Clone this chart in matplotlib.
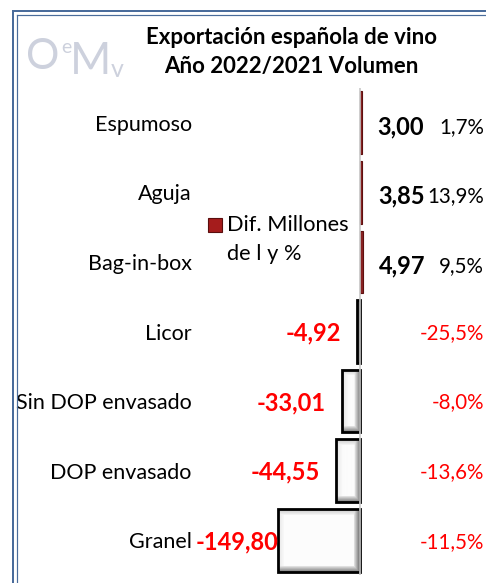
import matplotlib
matplotlib.use('Agg')
import matplotlib.pyplot as plt
import matplotlib.transforms as mtransforms
from matplotlib.lines import Line2D
from matplotlib.patches import Rectangle
import numpy as np

# ---------------- data ----------------
categories = ["Espumoso", "Aguja", "Bag-in-box", "Licor",
              "Sin DOP envasado", "DOP envasado", "Granel"]
dif_millones = [3.00, 3.85, 4.97, -4.92, -33.01, -44.55, -149.80]
variacion_pct = [1.7, 13.9, 9.5, -25.5, -8.0, -13.6, -11.5]
title_lines = ["Exportación española de vino", "Año 2022/2021 Volumen"]
legend_label = "Dif. Millones\nde l y %"

plt.rcParams['font.family'] = ['Lato', 'DejaVu Sans']

W, H = 486, 583
DPI = 100
fig = plt.figure(figsize=(W / DPI, H / DPI), dpi=DPI)
fig.patch.set_facecolor('white')


def fx(px):
    return px / W


def fy(py):
    return 1 - py / H


PT = 72 / DPI  # points per pixel

ax = fig.add_axes([fx(196), fy(575), fx(484) - fx(196), fy(88) - fy(575)])
ax.set_facecolor('none')

y = np.arange(len(categories))
face = ['#8b2222' if v > 0 else 'none' for v in dif_millones]
edge = ['#5e1010' if v > 0 else 'black' for v in dif_millones]
lws = [0.8 if v > 0 else 2.0 for v in dif_millones]
bars = ax.barh(y, dif_millones, height=0.9, color=face, edgecolor=edge,
               linewidth=lws, zorder=3)

ax.set_xlim(-300, 227)
ax.set_ylim(len(categories) - 0.5, -0.5)

# bevel shading for negative bars (image clipped to bar shape)
fig.canvas.draw()
for b, v in zip(bars, dif_millones):
    if v >= 0:
        continue
    x0, y0, w, h = b.get_x(), b.get_y(), b.get_width(), b.get_height()
    p0 = ax.transData.transform((x0, y0))
    p1 = ax.transData.transform((x0 + w, y0 + h))
    wpx = max(int(round(abs(p1[0] - p0[0]))), 2)
    hpx = max(int(round(abs(p1[1] - p0[1]))), 2)
    xx, yy = np.meshgrid(np.arange(wpx), np.arange(hpx))
    xl, xr = min(x0, x0 + w), max(x0, x0 + w)
    bev = 6.0
    shade = np.full((hpx, wpx), 0.985)
    dr = (wpx - 1 - xx) / bev
    db = (hpx - 1 - yy) / bev
    dt = yy / bev
    dl = xx / bev
    shade = np.minimum(shade, np.where(dr < 1, 0.45 + 0.5 * dr, 1))
    shade = np.minimum(shade, np.where(db < 1, 0.5 + 0.45 * db, 1))
    shade = np.minimum(shade, np.where(dt < 1, 0.78 + 0.2 * dt, 1))
    shade = np.minimum(shade, np.where(dl < 1, 0.9 + 0.08 * dl, 1))
    img = ax.imshow(shade, cmap='gray', vmin=0, vmax=1, aspect='auto',
                    extent=(xl, xr, y0 + h, y0), origin='upper',
                    interpolation='bilinear', zorder=2)
    img.set_clip_path(b)

ax.set_xlim(-300, 227)
ax.set_ylim(len(categories) - 0.5, -0.5)

ax.axvline(0, color='#c8c8c8', lw=1.2, zorder=4)

for s in ax.spines.values():
    s.set_visible(False)
ax.set_xticks([])
ax.set_yticks(y)
ax.set_yticklabels(categories, fontsize=15.5, color='black')
ax.tick_params(axis='y', length=0, pad=3)

# value labels
neg_anns = []
for yi, v in zip(y, dif_millones):
    txt = f"{v:.2f}".replace('.', ',')
    if v > 0:
        ax.annotate(txt, xy=(v, yi), xytext=(16 * PT, -4 * PT),
                    textcoords='offset points', ha='left', va='center',
                    fontsize=17, fontweight='bold', color='black', zorder=5)
    else:
        a = ax.annotate(txt, xy=(v, yi), xytext=(-16 * PT, -1.5 * PT),
                        textcoords='offset points', ha='right', va='center',
                        fontsize=17, fontweight='bold', color='#ff0000',
                        zorder=5)
        neg_anns.append(a)

# percentage labels at right edge
trans = mtransforms.blended_transform_factory(ax.transAxes, ax.transData)
for yi, p in zip(y, variacion_pct):
    txt = f"{p:.1f}%".replace('.', ',')
    ax.annotate(txt, xy=(1.0, yi), xycoords=trans,
                xytext=(0, (-4 if p > 0 else -1.5) * PT),
                textcoords='offset points', ha='right', va='center',
                fontsize=14.8, color='black' if p > 0 else '#ff0000')

# keep negative labels inside plot area (as the original does)
fig.canvas.draw()
r = fig.canvas.get_renderer()
axleft = ax.get_window_extent(r).x0
for a in neg_anns:
    bb = a.get_window_extent(r)
    if bb.x0 < axleft:
        dx = (axleft - bb.x0) * PT
        a.xyann = (a.xyann[0] + dx, a.xyann[1])

# title
fig.text(fx(291), fy(38), title_lines[0], ha='center', va='center',
         fontsize=16, fontweight='bold', color='black')
fig.text(fx(291), fy(67), title_lines[1], ha='center', va='center',
         fontsize=16, fontweight='bold', color='black')

# legend (marker + two-line label)
fig.add_artist(Rectangle((fx(208), fy(232)), fx(14), 14 / H,
                         facecolor='#a51c1c', edgecolor='#5a0e0e', lw=0.8,
                         transform=fig.transFigure))
leg_lines = legend_label.split('\n')
fig.text(fx(227), fy(225), leg_lines[0], ha='left', va='center',
         fontsize=15.7, color='black')
fig.text(fx(227), fy(254), leg_lines[1], ha='left', va='center',
         fontsize=15.7, color='black')

# logo
logo_c = '#cdd1dd'
fig.text(fx(26), fy(69), "O", fontsize=30, color=logo_c, va='baseline',
         ha='left')
fig.text(fx(61), fy(53), "e", fontsize=14, color=logo_c, va='baseline',
         ha='left')
fig.text(fx(70), fy(74), "M", fontsize=32, color=logo_c, va='baseline',
         ha='left')
fig.text(fx(111), fy(77), "v", fontsize=18, color=logo_c, va='baseline',
         ha='left')

# frame (double line, left and top)
bc = '#4a6c9b'
fig.add_artist(Line2D([fx(13), fx(13)], [fy(11), 0], color=bc, lw=2 * PT,
                      transform=fig.transFigure))
fig.add_artist(Line2D([fx(13), 1], [fy(11), fy(11)], color=bc, lw=2 * PT,
                      transform=fig.transFigure))
fig.add_artist(Line2D([fx(16.5), fx(16.5)], [fy(14.5), 0], color=bc, lw=1.2 * PT,
                      transform=fig.transFigure))
fig.add_artist(Line2D([fx(16.5), 1], [fy(14.5), fy(14.5)], color=bc, lw=1.2 * PT,
                      transform=fig.transFigure))

fig.savefig('out.png', dpi=DPI)
